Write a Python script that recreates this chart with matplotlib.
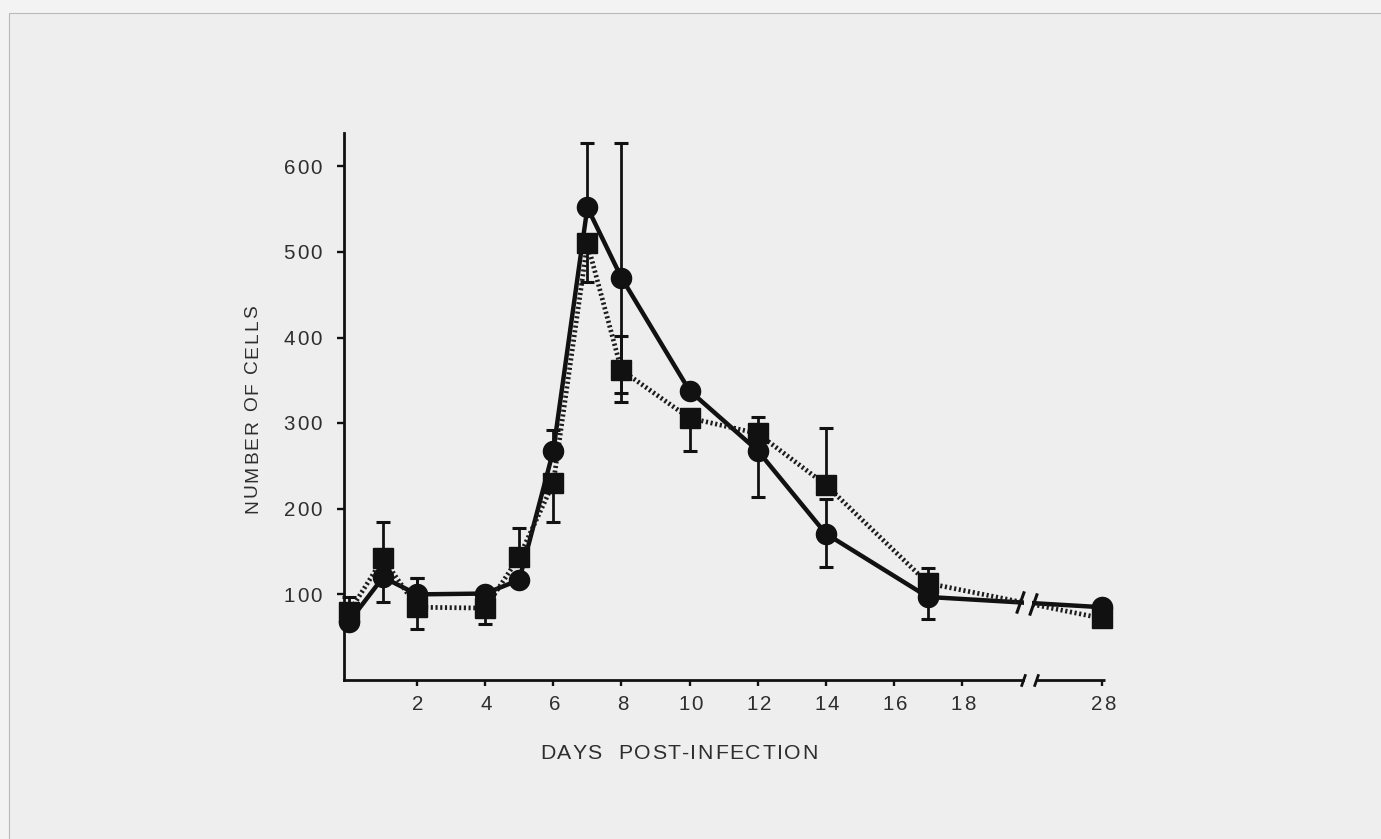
import matplotlib
matplotlib.use("Agg")
import matplotlib.pyplot as plt
from matplotlib.path import Path
from matplotlib.patches import Rectangle
from matplotlib.transforms import IdentityTransform

# ---------------- data ----------------
days = [0, 1, 2, 4, 5, 6, 7, 8, 10, 12, 14, 17, 28]
circle_cells = [68, 120, 100, 101, 117, 268, 552, 470, 338, 268, 171, 97, 85]
circle_err_low = [0, 0, 0, 0, 0, 0, 0, 135, 0, 54, 39, 26, 0]
circle_err_high = [0, 0, 19, 0, 0, 24, 75, 157, 0, 0, 41, 0, 0]
square_cells = [79, 142, 85, 84, 144, 230, 510, 362, 306, 288, 228, 113, 72]
square_err_low = [0, 51, 25, 19, 0, 45, 45, 37, 39, 0, 0, 0, 0]
square_err_high = [18, 42, 34, 0, 33, 0, 0, 40, 0, 19, 66, 18, 0]
x_tick_days = [2, 4, 6, 8, 10, 12, 14, 16, 18, 28]
y_ticks = [100, 200, 300, 400, 500, 600]
x_label = "DAYS  POST-INFECTION"
y_label = "NUMBER OF CELLS"

# ---------------- style ----------------
W, H = 1381, 839
FONT = "Liberation Sans"
INK = "#111111"
TEXT = "#2e2e2e"
BG_OUT = "#f3f3f3"
BG_IN = "#eeeeee"
BREAK_POS = 20.0      # axis position of the broken region
POS_28 = 22.12        # axis position used for day 28 (after the break)


def to_pos(d):
    return d if d < BREAK_POS else POS_28 + (d - 28)


fig = plt.figure(figsize=(W / 100, H / 100), dpi=100, facecolor=BG_OUT)
fig.add_artist(Rectangle((9, -10), W + 20, H - 13 + 10, transform=IdentityTransform(),
                         facecolor=BG_IN, edgecolor="#b9b9b9", lw=0.8, zorder=-10))

ax = fig.add_axes([344 / W, 1 - 680 / H, (1105 - 344) / W, (680 - 133) / H])
ax.set_facecolor("none")
ax.set_xlim(-0.147, 22.2)
ax.set_ylim(0, 639)

for s in ["top", "right"]:
    ax.spines[s].set_visible(False)
for s in ["left", "bottom"]:
    ax.spines[s].set_linewidth(2.0)
    ax.spines[s].set_color(INK)
ax.spines["bottom"].set_bounds(-0.147, 19.8)
ax.plot([20.17, 22.2], [0, 0], color=INK, lw=2.0, clip_on=False, solid_capstyle="butt")

ax.set_xticks([to_pos(d) for d in x_tick_days])
ax.set_yticks(y_ticks)
ax.tick_params(axis="y", direction="out", length=5, width=1.7, color=INK, labelleft=False)
ax.tick_params(axis="x", direction="out", length=4.5, width=1.7, color=INK, labelbottom=False)

xs = [to_pos(d) for d in days]

# lines
ax.plot(xs, circle_cells, color=INK, lw=3.2, zorder=2, solid_joinstyle="round", clip_on=False)
ax.plot(xs, square_cells, color="#1c1c1c", lw=3.4, zorder=2, clip_on=False,
        linestyle=(0, (0.45, 0.55)), dash_capstyle="butt")

# gap in the data lines at the break
ax.fill_between([19.83, 20.05], 55, 125, color=BG_IN, lw=0, zorder=2.5)
slash = Path([(-0.35, -1.0), (0.35, 1.0)], [Path.MOVETO, Path.LINETO])
ax.plot([19.70, 20.08], [91, 89], linestyle="none", marker=slash, ms=16,
        mec=INK, mew=2.2, zorder=3)
ax.plot([19.79, 20.17], [0, 0], linestyle="none", marker=slash, ms=9,
        mec=INK, mew=2.0, zorder=3, clip_on=False)

# error bars
for vals, lo, hi in [(circle_cells, circle_err_low, circle_err_high),
                     (square_cells, square_err_low, square_err_high)]:
    eb = ax.errorbar(xs, vals, yerr=[lo, hi], fmt="none", ecolor=INK, elinewidth=2.0,
                     capsize=4.7, capthick=2.2, zorder=3)
    for art in eb.lines[1] + eb.lines[2]:
        art.set_clip_on(False)

# markers
ax.plot(xs, circle_cells, linestyle="none", marker="o", ms=14.5, color=INK, zorder=4,
        clip_on=False)
ax.plot(xs, square_cells, linestyle="none", marker="s", ms=14, color=INK, zorder=5,
        clip_on=False)

# ---------------- tracked text helper ----------------
renderer = fig.canvas.get_renderer()


def _w(txt, size):
    t = fig.text(0, 0, txt, fontsize=size, family=FONT)
    bb = t.get_window_extent(renderer=renderer)
    t.remove()
    return bb.width


def tracked(s, x, y, size, target=None, track=0.0, ha="center", rotation=0, color=TEXT):
    n = len(s)
    wH = _w("H", size)
    offs = [0.0] + [_w(s[:i] + "H", size) - wH for i in range(1, n)]
    base = _w(s, size)
    if target is not None and n > 1:
        track = (target - base) / (n - 1)
    total = base + track * (n - 1)
    start = {"center": -total / 2, "right": -total, "left": 0}[ha]
    for i, ch in enumerate(s):
        if ch == " ":
            continue
        d = start + offs[i] + i * track
        px, py = (x + d, y) if rotation == 0 else (x, y + d)
        fig.text(px, py, ch, fontsize=size, family=FONT, color=color, ha="left",
                 va="baseline", rotation=rotation, rotation_mode="anchor",
                 transform=IdentityTransform())


TICK_SIZE = 14.8
TICK_TRACK = 2.0
# tick labels
for v in y_ticks:
    _, dy = ax.transData.transform((0, v))
    tracked(str(v), 322, dy - 7.2, TICK_SIZE, track=TICK_TRACK, ha="right")
for d in x_tick_days:
    dx, _ = ax.transData.transform((to_pos(d), 0))
    tracked(str(d), dx + 1, H - 710, TICK_SIZE, track=TICK_TRACK, ha="center")

# axis titles
tracked(x_label, 679, H - 759, 15.3, target=278, ha="center")
tracked(y_label, 257, H - 409, 13.8, target=208, ha="center", rotation=90)

fig.savefig("out.png", dpi=100, facecolor=BG_OUT)
